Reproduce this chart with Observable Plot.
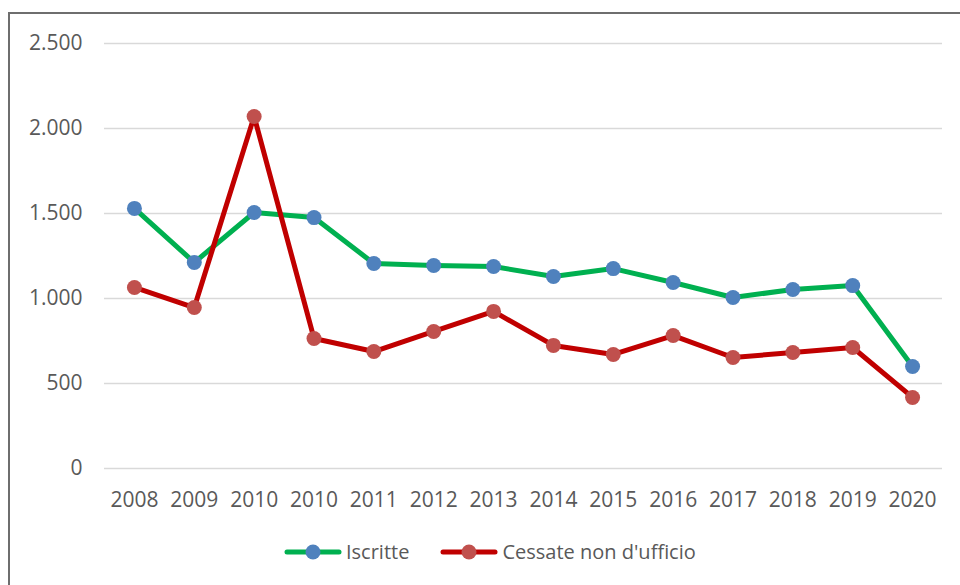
<!DOCTYPE html>
<html>
<head>
<meta charset="utf-8">
<script src="https://cdn.jsdelivr.net/npm/d3@7"></script>
<script src="https://cdn.jsdelivr.net/npm/@observablehq/plot@0.6"></script>
<style>
  html, body { margin: 0; padding: 0; background: #fff; width: 960px; height: 585px; overflow: hidden; }
  #frame { position: absolute; left: 8px; top: 12px; width: 1000px; height: 700px; border-top: 2px solid #6e6e6e; border-left: 2px solid #6e6e6e; box-sizing: border-box; }
  #chart { position: absolute; left: 0; top: 0; }
  #legend { position: absolute; left: 284px; top: 538px; display: flex; align-items: center; font-family: "Open Sans", sans-serif; font-size: 20px; color: #595959; }
  .item { display: flex; align-items: center; margin-right: 31px; }
  .item svg { margin-right: 4px; }
</style>
</head>
<body>
<div id="frame"></div>
<div id="chart"></div>
<div id="legend"></div>
<script>
const categories = ["2008", "2009", "2010", "2010", "2011", "2012", "2013", "2014", "2015", "2016", "2017", "2018", "2019", "2020"];
const iscritte = [1530, 1212, 1506, 1476, 1206, 1194, 1188, 1129, 1176, 1094, 1006, 1053, 1076, 600];
const cessate = [1065, 947, 2071, 765, 688, 806, 924, 724, 671, 782, 653, 682, 712, 418];
const yTicks = [0, 500, 1000, 1500, 2000, 2500];
const seriesNames = ["Iscritte", "Cessate non d'ufficio"];
const lineColors = ["#00b050", "#c00000"];
const dotColors = ["#4f81bd", "#c0504d"];

const idx = categories.map((_, i) => i);
const dataA = idx.map(i => ({i, v: iscritte[i]}));
const dataB = idx.map(i => ({i, v: cessate[i]}));
const itFmt = d3.formatLocale({decimal: ",", thousands: ".", grouping: [3], currency: ["", "€"]}).format(",");

const chart = Plot.plot({
  width: 960,
  height: 520,
  marginTop: 43,
  marginBottom: 52,
  marginLeft: 104,
  marginRight: 18,
  style: {fontFamily: "'Open Sans', sans-serif", fontSize: "21px", color: "#595959", background: "transparent"},
  x: {type: "point", domain: idx, padding: 0.5, round: false, tickFormat: i => categories[i], tickSize: 0, tickPadding: 24, label: null},
  y: {domain: [0, 2500], ticks: yTicks, tickFormat: itFmt, tickSize: 0, tickPadding: 22, label: null},
  marks: [
    Plot.ruleY(yTicks, {stroke: "#d9d9d9", strokeWidth: 1.5}),
    Plot.line(dataA, {x: "i", y: "v", stroke: lineColors[0], strokeWidth: 5, strokeLinejoin: "round", strokeLinecap: "round"}),
    Plot.dot(dataA, {x: "i", y: "v", r: 7.5, fill: dotColors[0]}),
    Plot.line(dataB, {x: "i", y: "v", stroke: lineColors[1], strokeWidth: 5, strokeLinejoin: "round", strokeLinecap: "round"}),
    Plot.dot(dataB, {x: "i", y: "v", r: 7.5, fill: dotColors[1]})
  ]
});
chart.querySelectorAll("[aria-label='x-axis tick label'] text, [aria-label='y-axis tick label'] text").forEach(t => t.setAttribute("fill", "#595959"));
document.getElementById("chart").appendChild(chart);

const legend = document.getElementById("legend");
seriesNames.forEach((name, k) => {
  const item = document.createElement("div");
  item.className = "item";
  item.innerHTML = `<svg width="58" height="18"><line x1="3" y1="9" x2="55" y2="9" stroke="${lineColors[k]}" stroke-width="5" stroke-linecap="round"/><circle cx="29" cy="9" r="7.5" fill="${dotColors[k]}"/></svg><span>${name}</span>`;
  legend.appendChild(item);
});
</script>
</body>
</html>
